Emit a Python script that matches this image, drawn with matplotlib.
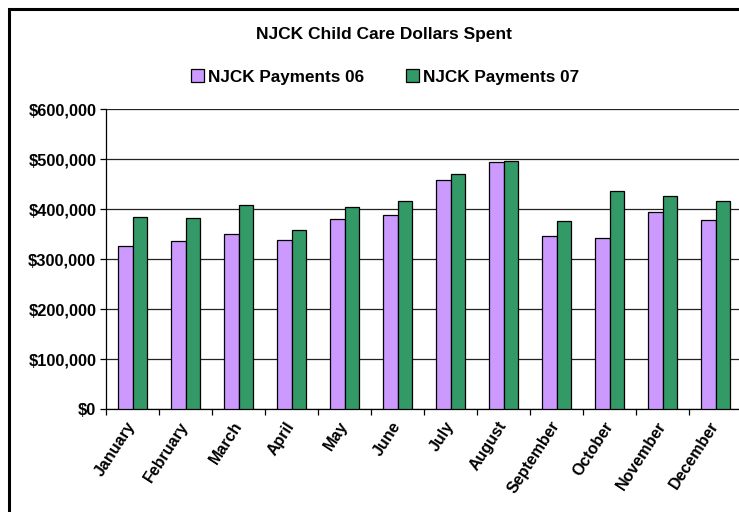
import matplotlib
matplotlib.use('Agg')
import matplotlib.pyplot as plt
import matplotlib.patches as patches
import matplotlib.ticker as mticker
import numpy as np

plt.rcParams['font.family'] = ['Liberation Sans', 'DejaVu Sans']

# Datos del gráfico
meses = ['January', 'February', 'March', 'April', 'May', 'June', 'July',
         'August', 'September', 'October', 'November', 'December']
pagos_06 = [326000, 337000, 351000, 338000, 380000, 389000, 458000,
            495000, 347000, 343000, 394000, 378000]
pagos_07 = [385000, 383000, 409000, 359000, 404000, 417000, 470000,
            497000, 377000, 437000, 426000, 417000]
series = ['NJCK Payments 06', 'NJCK Payments 07']
titulo = 'NJCK Child Care Dollars Spent'

fig = plt.figure(figsize=(7.39, 5.12), dpi=100)
ax = fig.add_axes([106 / 739, 1 - 409 / 512, 636 / 739, 300 / 512])

x = np.arange(len(meses))
ancho = 0.283
ax.bar(x - ancho / 2, pagos_06, ancho, color='#CC99FF', edgecolor='black',
       linewidth=0.9, label=series[0], zorder=3)
ax.bar(x + ancho / 2, pagos_07, ancho, color='#339966', edgecolor='black',
       linewidth=0.9, label=series[1], zorder=3)

ax.set_xlim(-0.5, len(meses) - 0.5)
ax.set_ylim(0, 600000)
ax.yaxis.set_major_locator(mticker.MultipleLocator(100000))
ax.yaxis.set_major_formatter(mticker.FuncFormatter(lambda v, p: '${:,.0f}'.format(v)))
ax.grid(axis='y', color='#222222', linewidth=0.9, zorder=0)

# Marcas entre categorías, etiquetas en el centro
ax.set_xticks(np.arange(len(meses) + 1) - 0.5)
ax.set_xticklabels([])
ax.set_xticks(x, minor=True)
ax.set_xticklabels(meses, minor=True, rotation=57, ha='right', va='center',
                   rotation_mode='anchor', fontsize=11.5, fontweight='bold')
ax.tick_params(axis='x', which='minor', length=0, pad=10)
ax.tick_params(axis='x', which='major', length=4, direction='out', width=0.9)
ax.tick_params(axis='y', length=4, direction='out', width=0.9, pad=3)
for lab in ax.get_yticklabels():
    lab.set_fontsize(11.8)
    lab.set_fontweight('bold')

for lado in ['top', 'right']:
    ax.spines[lado].set_visible(False)
ax.spines['left'].set_linewidth(0.9)
ax.spines['bottom'].set_linewidth(0.9)

fig.text(384 / 739, 1 - 35 / 512, titulo, ha='center', va='center',
         fontsize=12.5, fontweight='bold')

fig.legend(loc='center', bbox_to_anchor=(385 / 739, 1 - 77 / 512), ncol=2,
           frameon=False, handlelength=0.75, handleheight=0.75,
           handletextpad=0.2, columnspacing=2.5,
           prop={'weight': 'bold', 'size': 12.3})

# Borde del área del gráfico
borde = patches.Rectangle((9 / 739, -0.1), 1.2, 1 - 9 / 512 + 0.1,
                          transform=fig.transFigure, fill=False,
                          edgecolor='black', linewidth=2.2)
fig.patches.append(borde)

fig.savefig('out.png', dpi=100)
